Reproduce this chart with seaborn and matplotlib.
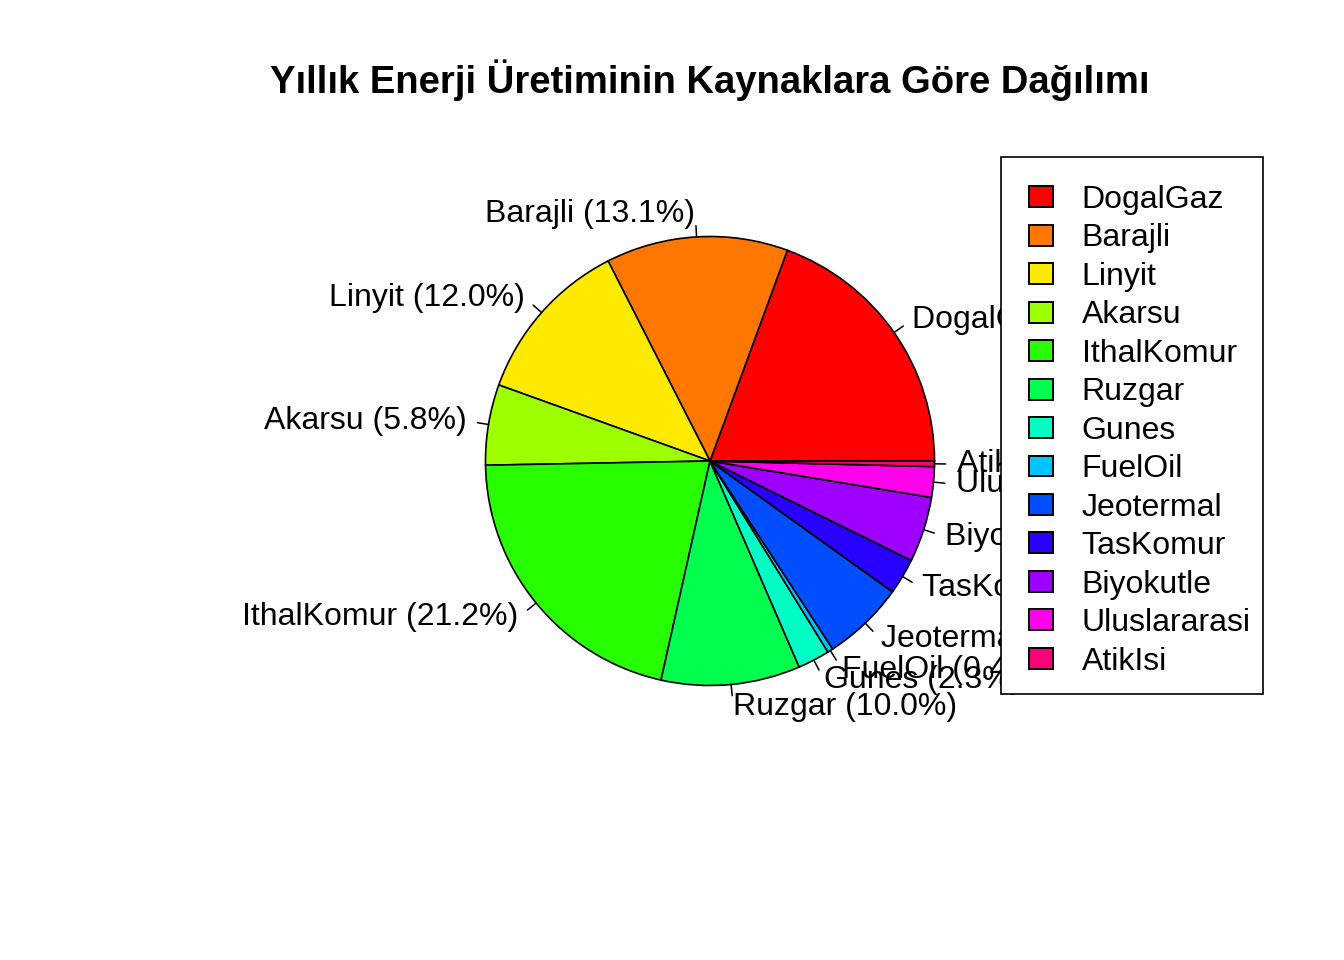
"""pie chart of yearly energy production by source"""

import matplotlib
matplotlib.use("Agg")
import numpy as np
import matplotlib.pyplot as plt
from matplotlib.patches import Rectangle
import seaborn as sns

sources = ["DogalGaz", "Barajli", "Linyit", "Akarsu", "IthalKomur", "Ruzgar",
           "Gunes", "FuelOil", "Jeotermal", "TasKomur", "Biyokutle",
           "Uluslararasi", "AtikIsi"]
shares = [19.4, 13.1, 12.0, 5.8, 21.2, 10.0, 2.3, 0.4, 5.9, 2.6, 4.7, 2.2, 0.4]
colors = ["#FF0000", "#FF7600", "#FFEB00", "#9DFF00", "#27FF00", "#00FF4E",
          "#00FFC4", "#00C4FF", "#004EFF", "#2700FF", "#9D00FF", "#FF00EB",
          "#FF0076"]

sns.set_theme(style="white")
plt.rcParams["font.family"] = ["Liberation Sans", "DejaVu Sans"]
plt.rcParams["text.color"] = "black"

W, H = 1344, 960
fig = plt.figure(figsize=(W / 100, H / 100), dpi=100)

cx, cy, r = 710, 461, 224.5
L = 1.5
half = r * L
ax = fig.add_axes([(cx - half) / W, (H - cy - half) / H, 2 * half / W, 2 * half / H])
ax.axis("off")

total = sum(shares)
wedges, _ = ax.pie(shares, colors=colors, startangle=0, counterclock=True,
                   radius=1, wedgeprops={"edgecolor": "black", "linewidth": 1.2})
ax.set_xlim(-L, L)
ax.set_ylim(-L, L)

fs = 23
for w, name, val in zip(wedges, sources, shares):
    mid = np.deg2rad((w.theta1 + w.theta2) / 2)
    x, y = np.cos(mid), np.sin(mid)
    ax.plot([x, 1.05 * x], [y, 1.05 * y], color="black", lw=1.1, clip_on=False)
    ax.text(1.1 * x, 1.1 * y, f"{name} ({val / total * 100:.1f}%)",
            ha="right" if x < 0 else "left", va="center", fontsize=fs,
            color="black")

fig.text(cx / W, 1 - 80 / H, "Yıllık Enerji Üretiminin Kaynaklara Göre Dağılımı",
         ha="center", va="center", fontsize=27.5, fontweight="bold", color="black")

# legend box drawn on top of the labels, like R's legend()
box = Rectangle((1001 / W, 1 - 694 / H), 262 / W, 537 / H, transform=fig.transFigure,
                facecolor="white", edgecolor="black", linewidth=1.2, zorder=4)
fig.patches.append(box)

leg = fig.legend(wedges, sources, loc="upper left",
                 bbox_to_anchor=(1029 / W, 1 - 185 / H), fontsize=fs,
                 frameon=False, handlelength=0.75, handleheight=0.63,
                 labelspacing=0.265, borderpad=0, handletextpad=0.9,
                 borderaxespad=0)
leg.set_zorder(5)
for t in leg.get_texts():
    t.set_color("black")
for p in leg.get_patches():
    p.set_linewidth(1.4)

fig.savefig("out.png", dpi=100, facecolor="white")
